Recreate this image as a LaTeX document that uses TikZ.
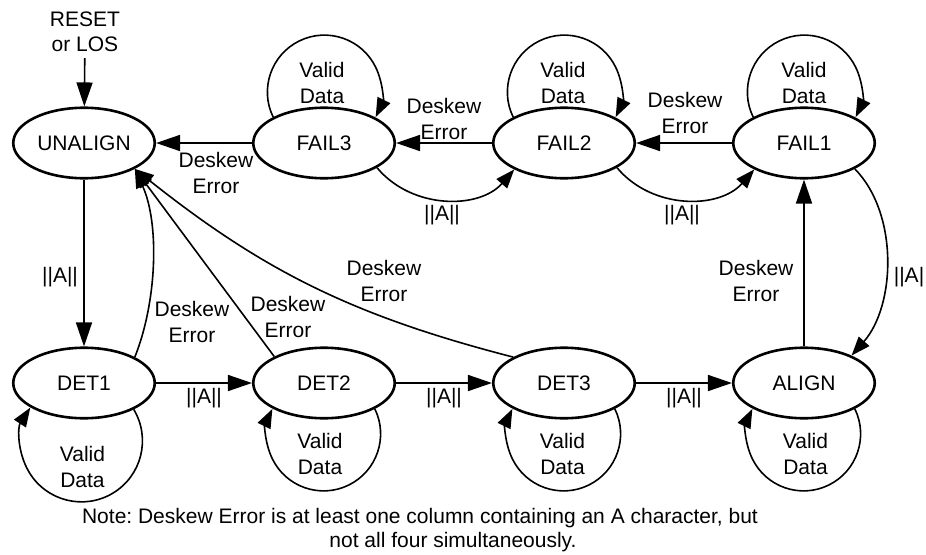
\documentclass[tikz,border=0pt]{standalone}
\usepackage{fontspec}
\setmainfont{Liberation Sans}
\usetikzlibrary{arrows.meta,shapes.geometric}
\begin{document}
\frenchspacing
\begin{tikzpicture}[x=1pt,y=1pt,
  every node/.style={font=\fontsize{21}{25.5}\selectfont},
  st/.style={draw,ellipse,line width=2.6pt,minimum width=141.5pt,minimum height=70.5pt,inner sep=0pt},
  lbl/.style={align=center,inner sep=0pt},
  arr/.style={line width=1.6pt,-{Triangle[length=24pt,width=16pt]}},
  carr/.style={line width=1.6pt,-{Triangle[length=19pt,width=14pt]}}]
\path[use as bounding box] (0,0) rectangle (926,-554);

% states
\node[st] (u)  at (84,-143)  {UNALIGN};
\node[st] (f3) at (324,-143) {FAIL3};
\node[st] (f2) at (564,-143) {FAIL2};
\node[st] (f1) at (804,-143) {FAIL1};
\node[st] (d1) at (84,-383)  {DET1};
\node[st] (d2) at (324,-383) {DET2};
\node[st] (d3) at (564,-383) {DET3};
\node[st] (al) at (804,-383) {ALIGN};

% entry
\node[lbl,outer sep=6pt] (rst) at (85,-32) {RESET\\or LOS};
\draw[arr] (rst) -- (u);

% straight transitions
\draw[arr] (u) -- (d1);
\draw[arr] (d1) -- (d2);
\draw[arr] (d2) -- (d3);
\draw[arr] (d3) -- (al);
\draw[arr] (al) -- (f1);
\draw[arr] (f1) -- (f2);
\draw[arr] (f2) -- (f3);
\draw[arr] (f3) -- (u);

% curved transitions
\draw[carr] (f3.-25) .. controls +(35,-42) and +(-35,-40) .. (f2.-152);
\draw[carr] (f2.-25) .. controls +(35,-42) and +(-35,-40) .. (f1.-152);
\draw[carr] (f1.-27) .. controls +(44,-45) and +(44,50) .. (al.30);
\draw[carr] (d1.27) .. controls +(22,55) and +(25,-55) .. (u.-27);
\draw[carr] (d2.152) -- (u.-27);
\draw[carr] (d3.153) to[bend left=12] (u.-27);

% self loops
\draw[carr] (f3.153) arc[start angle=206,end angle=-26,radius=57];
\draw[carr] (f2.153) arc[start angle=206,end angle=-26,radius=57];
\draw[carr] (f1.153) arc[start angle=206,end angle=-26,radius=57];
\draw[carr] (d1.-28) arc[start angle=31,end angle=-213,radius=61];
\draw[carr] (d2.-27) arc[start angle=26,end angle=-206,radius=57];
\draw[carr] (d3.-27) arc[start angle=26,end angle=-206,radius=57];
\draw[carr] (al.-27) arc[start angle=26,end angle=-206,radius=57];

% labels
\node[lbl] (e1)  at (216,-173) {Deskew\\Error};
\node[lbl] (e2)  at (444,-119) {Deskew\\Error};
\node[lbl] (e3)  at (685,-113) {Deskew\\Error};
\node[lbl] (a1)  at (442,-215) {||A||};
\node[lbl] (a2)  at (682,-215) {||A||};
\node[lbl] (a3)  at (909,-277) {||A|};
\node[lbl] (e4)  at (756,-281) {Deskew\\Error};
\node[lbl] (a4)  at (60,-277)  {||A||};
\node[lbl] (e5)  at (192,-322) {Deskew\\Error};
\node[lbl] (e6)  at (288,-317) {Deskew\\Error};
\node[lbl] (e7)  at (384,-281) {Deskew\\Error};
\node[lbl] (a5)  at (204,-398) {||A||};
\node[lbl] (a6)  at (444,-398) {||A||};
\node[lbl] (a7)  at (684,-398) {||A||};
\node[lbl] (v1)  at (322,-83)  {Valid\\Data};
\node[lbl] (v2)  at (563,-83)  {Valid\\Data};
\node[lbl] (v3)  at (804,-83)  {Valid\\Data};
\node[lbl] (v4)  at (82.5,-467) {Valid\\Data};
\node[lbl] (v5)  at (320,-454) {Valid\\Data};
\node[lbl] (v6)  at (562.5,-454) {Valid\\Data};
\node[lbl] (v7)  at (805.5,-454) {Valid\\Data};

% note
\node[lbl,anchor=base] (n1) at (420,-523) {Note: Deskew Error is at least one column containing an A character, but};
\node[lbl,anchor=base] (n2) at (453,-547) {not all four simultaneously.};
\end{tikzpicture}
\end{document}
